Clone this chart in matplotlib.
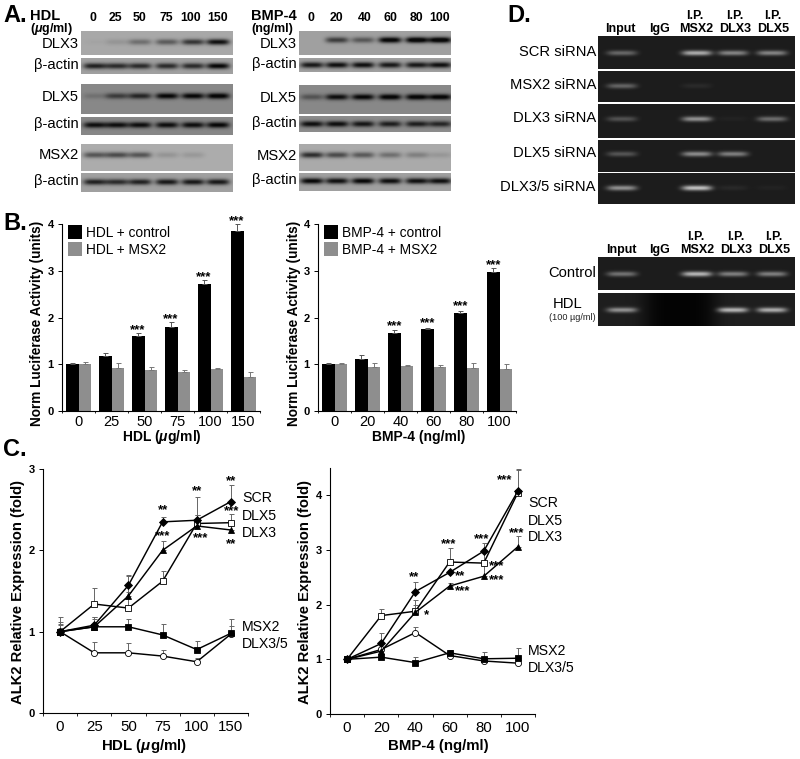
import numpy as np
import matplotlib
matplotlib.use("Agg")
import matplotlib.pyplot as plt

plt.rcParams['font.family'] = ['Liberation Sans', 'DejaVu Sans']
plt.rcParams['mathtext.fontset'] = 'custom'
plt.rcParams['mathtext.rm'] = 'Liberation Sans:bold'
plt.rcParams['mathtext.it'] = 'Liberation Sans:italic:bold'
plt.rcParams['mathtext.bf'] = 'Liberation Sans:bold'

W, H = 800, 759

# ---- Data ----
hdl_doses = ['0', '25', '50', '75', '100', '150']
bmp_doses = ['0', '20', '40', '60', '80', '100']

# Panel A: band strengths per lane (0 none, 1 strongest)
a_hdl_dlx3 = [0.02, 0.10, 0.30, 0.40, 0.60, 0.80]
a_hdl_actin1 = [0.70, 0.65, 0.65, 0.65, 0.65, 0.85]
a_hdl_dlx5 = [0.15, 0.50, 0.65, 0.85, 0.85, 0.90]
a_hdl_actin2 = [0.80, 0.80, 0.80, 0.80, 0.80, 0.85]
a_hdl_msx2 = [0.45, 0.50, 0.45, 0.12, 0.10, 0.0]
a_hdl_actin3 = [0.70, 0.65, 0.70, 0.75, 0.75, 0.75]
a_bmp_dlx3 = [0.0, 0.55, 0.40, 0.90, 0.95, 0.95]
a_bmp_actin1 = [0.75, 0.80, 0.80, 0.75, 0.75, 0.80]
a_bmp_dlx5 = [0.35, 0.80, 0.85, 0.90, 0.90, 0.90]
a_bmp_actin2 = [0.80, 0.80, 0.75, 0.70, 0.70, 0.65]
a_bmp_msx2 = [0.65, 0.50, 0.42, 0.30, 0.22, 0.10]
a_bmp_actin3 = [0.85, 0.80, 0.85, 0.80, 0.80, 0.80]

# Panel B
b_hdl_ctrl = [1.00, 1.17, 1.60, 1.80, 2.72, 3.85]
b_hdl_ctrl_err = [0.03, 0.07, 0.07, 0.10, 0.08, 0.15]
b_hdl_msx2 = [1.00, 0.93, 0.88, 0.84, 0.90, 0.73]
b_hdl_msx2_err = [0.04, 0.10, 0.06, 0.04, 0.03, 0.10]
b_bmp_ctrl = [1.00, 1.12, 1.67, 1.75, 2.10, 2.98]
b_bmp_ctrl_err = [0.02, 0.07, 0.07, 0.02, 0.03, 0.08]
b_bmp_msx2 = [1.00, 0.94, 0.96, 0.94, 0.92, 0.90]
b_bmp_msx2_err = [0.02, 0.08, 0.02, 0.04, 0.10, 0.10]

# Panel C
c_hdl_scr = [1.00, 1.08, 1.57, 2.35, 2.37, 2.60]
c_hdl_scr_err = [0.08, 0.10, 0.13, 0.06, 0.07, 0.20]
c_hdl_dlx5 = [1.00, 1.34, 1.29, 1.62, 2.33, 2.34]
c_hdl_dlx5_err = [0.10, 0.20, 0.20, 0.12, 0.32, 0.11]
c_hdl_dlx3 = [1.00, 1.06, 1.44, 2.00, 2.30, 2.25]
c_hdl_dlx3_err = [0.05, 0.12, 0.25, 0.12, 0.13, 0.10]
c_hdl_msx2 = [1.00, 1.06, 1.06, 0.96, 0.78, 0.98]
c_hdl_msx2_err = [0.18, 0.10, 0.10, 0.14, 0.10, 0.18]
c_hdl_d35 = [1.00, 0.74, 0.74, 0.70, 0.63, 0.97]
c_hdl_d35_err = [0.12, 0.13, 0.12, 0.08, 0.05, 0.10]

c_bmp_scr = [1.00, 1.29, 2.24, 2.59, 2.98, 4.08]
c_bmp_scr_err = [0.05, 0.20, 0.18, 0.05, 0.15, 0.40]
c_bmp_dlx5 = [1.00, 1.80, 1.88, 2.78, 2.76, 4.05]
c_bmp_dlx5_err = [0.05, 0.12, 0.20, 0.25, 0.20, 0.42]
c_bmp_dlx3 = [1.00, 1.15, 1.86, 2.34, 2.52, 3.06]
c_bmp_dlx3_err = [0.03, 0.05, 0.14, 0.06, 0.20, 0.20]
c_bmp_msx2 = [1.00, 1.04, 0.94, 1.12, 1.01, 1.02]
c_bmp_msx2_err = [0.02, 0.05, 0.11, 0.05, 0.12, 0.18]
c_bmp_d35 = [1.00, 1.18, 1.49, 1.07, 0.97, 0.93]
c_bmp_d35_err = [0.05, 0.10, 0.11, 0.04, 0.05, 0.05]

# Panel D: gel band strengths (Input, IgG, MSX2, DLX3, DLX5)
d_scr = [0.42, 0.0, 0.80, 0.58, 0.58]
d_msx2 = [0.40, 0.0, 0.08, 0.0, 0.0]
d_dlx3 = [0.30, 0.0, 0.65, 0.04, 0.45]
d_dlx5 = [0.32, 0.0, 0.62, 0.55, 0.0]
d_d35 = [0.65, 0.0, 0.92, 0.07, 0.04]
d_control = [0.48, 0.0, 0.85, 0.55, 0.55]
d_hdl = [0.65, 0.0, 0.0, 0.85, 0.80]

fig = plt.figure(figsize=(W / 100, H / 100), dpi=100)


def px_axes(x0, y0, x1, y1, **kw):
    return fig.add_axes([x0 / W, 1 - y1 / H, (x1 - x0) / W, (y1 - y0) / H], **kw)


ov = px_axes(0, 0, W, H)
ov.set_xlim(0, W)
ov.set_ylim(H, 0)
ov.axis('off')
ov.set_zorder(20)


def T(x, y, s, size=10.5, ha='center', va='center', weight='normal', **kw):
    ov.text(x, y, s, fontsize=size, ha=ha, va=va, fontweight=weight, **kw)


def stars(x, y, s):
    # asterisks sit high in the line box, so anchor on the baseline
    ov.text(x, y + 6.5, s, fontsize=9.5, ha='center', va='baseline', fontweight='bold')


def blot(box, lanes, strengths, bg, halfw=10, sy=2.4, band_y=None, dark=True, gain=1.0,
         black_span=None):
    x0, y0, x1, y1 = box
    xs = np.arange(x0, x1) + 0.5
    ys = np.arange(y0, y1) + 0.5
    xx, yy = np.meshgrid(xs, ys)
    cy = (y0 + y1) / 2 if band_y is None else band_y
    sig = np.zeros_like(xx)
    for c, a in zip(lanes, strengths):
        sig += a * np.exp(-np.abs((xx - c) / halfw) ** 4) * np.exp(-((yy - cy) / sy) ** 2)
    sig = np.clip(sig * gain, 0, 1)
    if dark:
        base = np.full_like(xx, float(bg))
        if black_span is not None:
            c = (black_span[0] + black_span[1]) / 2
            hw = (black_span[1] - black_span[0]) / 2
            base *= 1 - 0.9 * np.exp(-np.abs((xx - c) / hw) ** 4)
        img = base + (205 - base) * sig
    else:
        img = bg * (1 - 0.94 * sig)
    ax = px_axes(x0, y0, x1, y1)
    ax.imshow(img, cmap='gray', vmin=0, vmax=255, aspect='auto', interpolation='bilinear')
    ax.axis('off')
    return ax


# ---- Panel A ----
lanes_l = [95, 117, 140, 167, 193, 218]
lanes_r = [312, 337, 363, 390, 417, 440]
rows_l = [((81, 31, 233, 55), a_hdl_dlx3, 168, 42, 'DLX3', 44),
          ((81, 58, 233, 74), a_hdl_actin1, 160, 66, 'β-actin', 65),
          ((81, 84, 233, 114), a_hdl_dlx5, 136, 96, 'DLX5', 97),
          ((81, 117, 233, 135), a_hdl_actin2, 135, 125, 'β-actin', 124),
          ((81, 144, 233, 171), a_hdl_msx2, 172, 155, 'MSX2', 155),
          ((81, 173, 233, 192), a_hdl_actin3, 160, 182, 'β-actin', 181)]
rows_r = [((299, 31, 451, 55), a_bmp_dlx3, 160, 40, 'DLX3', 44),
          ((299, 58, 451, 72), a_bmp_actin1, 160, 65, 'β-actin', 64),
          ((299, 85, 451, 114), a_bmp_dlx5, 136, 97, 'DLX5', 98),
          ((299, 116, 451, 132), a_bmp_actin2, 140, 124, 'β-actin', 123),
          ((299, 144, 451, 171), a_bmp_msx2, 170, 155, 'MSX2', 156),
          ((299, 173, 451, 191), a_bmp_actin3, 160, 181, 'β-actin', 180)]
for rows, lanes, xr in ((rows_l, lanes_l, 79), (rows_r, lanes_r, 297)):
    for box, vals, bg, by, lab, ly in rows:
        blot(box, lanes, vals, bg, band_y=by, dark=False, sy=3.0, halfw=11.5, gain=1.2)
        T(xr, ly, lab, size=10.6, ha='right')

T(3, 16, 'A.', size=17, ha='left', weight='bold')
T(30, 15.5, 'HDL', size=10.5, ha='left', weight='bold')
T(30, 29, '($\\mathit{\\mu}$g/ml)', size=9.0, ha='left', weight='bold')
T(251, 15.5, 'BMP-4', size=10.5, ha='left', weight='bold')
T(251, 29, '(ng/ml)', size=9.0, ha='left', weight='bold')
for x, s in zip([93, 115, 140, 166, 191, 218], hdl_doses):
    T(x, 18, s, size=8.8, weight='bold')
for x, s in zip([311, 336, 365, 390, 416, 440], bmp_doses):
    T(x, 18, s, size=8.8, weight='bold')

# ---- Panel D ----
d_lanes = [622, 660, 697, 733, 772]
d_rows = [((598, 36, 795, 69), d_scr, 53, 'SCR siRNA'),
          ((598, 71, 795, 102), d_msx2, 86, 'MSX2 siRNA'),
          ((598, 104, 795, 138), d_dlx3, 119, 'DLX3 siRNA'),
          ((598, 140, 795, 172), d_dlx5, 154, 'DLX5 siRNA'),
          ((598, 173, 795, 204), d_d35, 188, 'DLX3/5 siRNA'),
          ((598, 257, 795, 290), d_control, 274, 'Control')]
for box, vals, by, lab in d_rows:
    blot(box, d_lanes, vals, 28, halfw=15, sy=2.6, band_y=by)
    T(596, by - 1, lab, size=10.6, ha='right')
blot((598, 293, 795, 326), d_lanes, d_hdl, 30, halfw=15, sy=2.6, band_y=310, black_span=(645, 716))
T(568, 304, 'HDL', size=10.6)
T(596, 318, '(100 µg/ml)', size=6.6, ha='right', color='#222222')

T(507, 16, 'D.', size=17, ha='left', weight='bold')
for ytop, ybot, off in ((16, 29, 0), (237, 250, 1)):
    T(620 + off, ybot, 'Input', size=9, weight='bold')
    T(659 + off, ybot, 'IgG', size=9, weight='bold')
    T(696 + off, ybot, 'MSX2', size=9, weight='bold')
    T(735 + off, ybot, 'DLX3', size=9, weight='bold')
    T(773 + off, ybot, 'DLX5', size=9, weight='bold')
    T(695 + off, ytop, 'I.P.', size=9, weight='bold')
    T(735 + off, ytop, 'I.P.', size=9, weight='bold')
    T(773 + off, ytop, 'I.P.', size=9, weight='bold')


# ---- Panel B ----
def bars(box, ctrl, ctrl_e, msx, msx_e, cats, name, xlabel, ylab_x, xlab_x):
    x0, y0, x1, y1 = box
    ax = px_axes(x0, y0, x1, y1)
    pos = np.arange(len(cats))
    w = 0.375
    ax.bar(pos - w / 2, ctrl, w, color='black', label=f'{name} + control',
           yerr=[[0] * 6, ctrl_e], error_kw=dict(ecolor='#555555', elinewidth=0.7, capsize=1.8, capthick=0.7))
    ax.bar(pos + w / 2, msx, w, color='#8e8e8e', label=f'{name} + MSX2',
           yerr=[[0] * 6, msx_e], error_kw=dict(ecolor='#777777', elinewidth=0.7, capsize=1.8, capthick=0.7))
    ax.set_xlim(-0.5, 5.5)
    ax.set_ylim(0, 4)
    ax.set_yticks([0, 1, 2, 3, 4])
    ax.set_xticks(pos)
    ax.set_xticklabels(cats, fontsize=10.5)
    ax.set_xticks(np.arange(-0.5, 6), minor=True)
    ax.tick_params(axis='x', which='major', length=0, pad=3)
    ax.tick_params(axis='x', which='minor', length=1.5, width=0.6)
    ax.tick_params(axis='y', length=3, width=0.7, labelsize=8, pad=3)
    for l in ax.get_yticklabels():
        l.set_fontweight('bold')
    ax.spines[['top', 'right']].set_visible(False)
    ax.patch.set_alpha(0)
    ax.set_ylabel('Norm Luciferase Activity (units)', fontsize=9.8, fontweight='bold')
    ax.yaxis.set_label_coords((ylab_x - x0) / (x1 - x0), 0.47)
    T(xlab_x, 437, xlabel, size=10, weight='bold')
    ax.legend(loc='upper left', bbox_to_anchor=(0.03, 0.993), frameon=False, fontsize=9.9,
              handlelength=1.02, handleheight=1.1, handletextpad=0.32, labelspacing=0.2,
              borderpad=0, borderaxespad=0)
    return ax


bars((62, 224, 260, 411), b_hdl_ctrl, b_hdl_ctrl_err, b_hdl_msx2, b_hdl_msx2_err, hdl_doses,
     'HDL', 'HDL ($\\mathit{\\mu}$g/ml)', 44, 162)
bars((318, 224, 516, 411), b_bmp_ctrl, b_bmp_ctrl_err, b_bmp_msx2, b_bmp_msx2_err, bmp_doses,
     'BMP-4', 'BMP-4 (ng/ml)', 301, 419)
T(3, 223, 'B.', size=17, ha='left', weight='bold')
for x, y in [(138, 327), (171, 316), (204, 274), (237, 218), (395, 323), (428, 320), (461, 303), (494, 262)]:
    stars(x, y, '***')


# ---- Panel C ----
def lines(box, series, cats, ymax, yticks, xlabel, ylab_x, xlab_x):
    x0, y0, x1, y1 = box
    ax = px_axes(x0, y0, x1, y1)
    pos = np.arange(6)
    for vals, err, marker, fc, ms in series:
        ax.errorbar(pos, vals, yerr=[[0] * 6, err], color='#666666', ecolor='#666666', elinewidth=0.7,
                    capsize=1.8, capthick=0.7, fmt='none', zorder=2)
    for vals, err, marker, fc, ms in series:
        ax.plot(pos, vals, color='black', lw=1.05, marker=marker, mfc=fc, mec='black', mew=0.6, ms=ms, zorder=3)
    ax.set_xlim(-0.5, 5.5)
    ax.set_ylim(0, ymax)
    ax.set_yticks(yticks)
    ax.set_xticks(pos)
    ax.set_xticklabels(cats, fontsize=10.8)
    ax.set_xticks(np.arange(-0.5, 6), minor=True)
    ax.tick_params(axis='x', which='major', length=0, pad=5)
    ax.tick_params(axis='x', which='minor', length=2, width=0.6)
    ax.tick_params(axis='y', length=3, width=0.7, labelsize=8, pad=3)
    for l in ax.get_yticklabels():
        l.set_fontweight('bold')
    ax.spines[['top', 'right']].set_visible(False)
    ax.patch.set_alpha(0)
    ax.set_ylabel('ALK2 Relative Expression (fold)', fontsize=10.6, fontweight='bold')
    ax.yaxis.set_label_coords((ylab_x - x0) / (x1 - x0), (y1 - 592) / (y1 - y0))
    T(xlab_x, 746, xlabel, size=10.8, weight='bold')


lines((43, 469, 248, 713),
      [(c_hdl_dlx5, c_hdl_dlx5_err, 's', 'white', 4.4),
       (c_hdl_d35, c_hdl_d35_err, 'o', 'white', 4.4),
       (c_hdl_dlx3, c_hdl_dlx3_err, '^', 'black', 4.6),
       (c_hdl_scr, c_hdl_scr_err, 'D', 'black', 3.6),
       (c_hdl_msx2, c_hdl_msx2_err, 's', 'black', 4.6)],
      hdl_doses, 3, [0, 1, 2, 3], 'HDL ($\\mathit{\\mu}$g/ml)', 25, 144)
lines((330, 468, 535, 714),
      [(c_bmp_dlx5, c_bmp_dlx5_err, 's', 'white', 4.4),
       (c_bmp_d35, c_bmp_d35_err, 'o', 'white', 4.4),
       (c_bmp_dlx3, c_bmp_dlx3_err, '^', 'black', 4.6),
       (c_bmp_scr, c_bmp_scr_err, 'D', 'black', 3.6),
       (c_bmp_msx2, c_bmp_msx2_err, 's', 'black', 4.6)],
      bmp_doses, 4.5, [0, 1, 2, 3, 4], 'BMP-4 (ng/ml)', 312, 438)
T(3, 449, 'C.', size=17, ha='left', weight='bold')

for xl, ys in ((242, [498, 516, 533, 627, 644]), (528, [503, 521, 537, 651, 668])):
    for y, s in zip(ys, ['SCR', 'DLX5', 'DLX3', 'MSX2', 'DLX3/5']):
        T(xl, y, s, size=10.2, ha='left')

for x, y, s in [(231, 478, '**'), (197, 488, '**'), (163, 507, '**'), (163, 533, '***'),
                (232, 508, '***'), (201, 535, '***'), (231, 541, '**'),
                (505, 477, '***'), (517, 530, '***'), (449, 541, '***'), (482, 536, '***'),
                (414, 574, '**'), (460, 573, '**'), (497, 563, '***'), (497, 577, '***'),
                (463, 588, '***'), (426, 612, '*')]:
    stars(x, y, s)

fig.savefig('out.png', dpi=100)
